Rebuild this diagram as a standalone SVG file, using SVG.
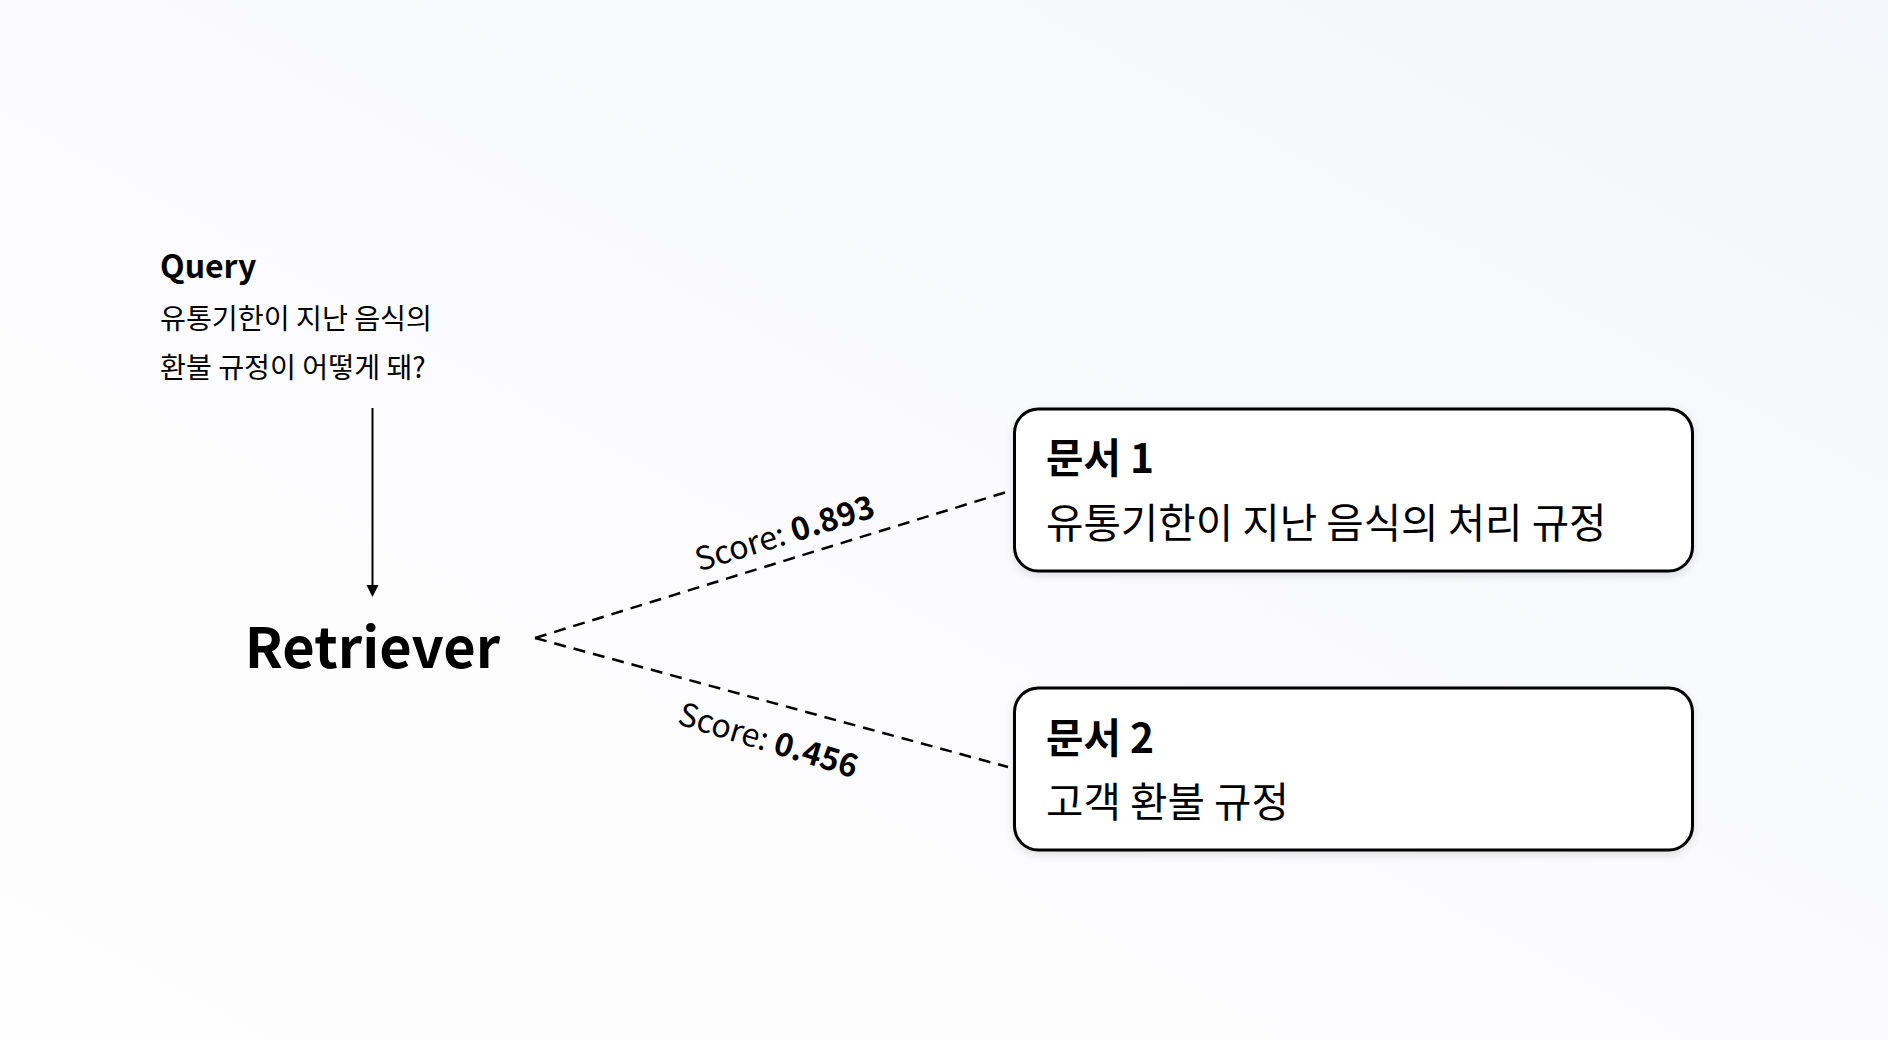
<svg xmlns="http://www.w3.org/2000/svg" width="1888" height="1040" viewBox="0 0 1888 1040">
<style>
text { font-family: "Noto Sans CJK KR", "Noto Sans", sans-serif; fill: #000; }
.b { font-weight: 700; }
.box { fill: #fff; stroke: #000; stroke-width: 3; }
.dash { fill: none; stroke: #000; stroke-width: 2.5; stroke-dasharray: 12 8; }
.lbl { font-size: 32px; }
</style>
<defs>
<linearGradient id="bg" x1="0" y1="1" x2="1" y2="0">
<stop offset="0" stop-color="#fefefe"/>
<stop offset="0.5" stop-color="#fbfbfd"/>
<stop offset="1" stop-color="#f3f6fa"/>
</linearGradient>
<filter id="sh" x="-10%" y="-20%" width="120%" height="150%">
<feDropShadow dx="0" dy="3" stdDeviation="4" flood-color="#000" flood-opacity="0.12"/>
</filter>
</defs>
<rect x="0" y="0" width="1888" height="1040" fill="url(#bg)"/>

<g id="query">
<text x="160" y="278" class="b" font-size="32">Query</text>
<text x="160" y="329" font-size="28.2">유통기한이 지난 음식의</text>
<text x="160" y="378" font-size="28.2">환불 규정이 어떻게 돼?</text>
</g>

<g id="retriever">
<text x="372.5" y="668" class="b" font-size="56" text-anchor="middle">Retriever</text>
</g>

<g id="doc1">
<rect class="box" x="1014.5" y="409" width="678" height="162" rx="24" filter="url(#sh)"/>
<text x="1046" y="473" class="b" font-size="40.7">문서 1</text>
<text x="1046" y="538" font-size="40.7">유통기한이 지난 음식의 처리 규정</text>
</g>

<g id="doc2">
<rect class="box" x="1014.5" y="688" width="678" height="162" rx="24" filter="url(#sh)"/>
<text x="1046" y="753" class="b" font-size="40.7">문서 2</text>
<text x="1046" y="817" font-size="40.7">고객 환불 규정</text>
</g>

<g id="connectors">
<line x1="372.5" y1="408" x2="372.5" y2="587" stroke="#000" stroke-width="2"/>
<polygon points="366.5,585 378.5,585 372.5,597" fill="#000"/>
<line class="dash" x1="535" y1="638" x2="1008" y2="491.5"/>
<line class="dash" x1="535" y1="638" x2="1008" y2="767"/>
<text class="lbl" text-anchor="middle" transform="translate(788 544) rotate(-17.2)">Score: <tspan class="b">0.893</tspan></text>
<text class="lbl" text-anchor="middle" transform="translate(765 751) rotate(17)">Score: <tspan class="b">0.456</tspan></text>
</g>
</svg>
